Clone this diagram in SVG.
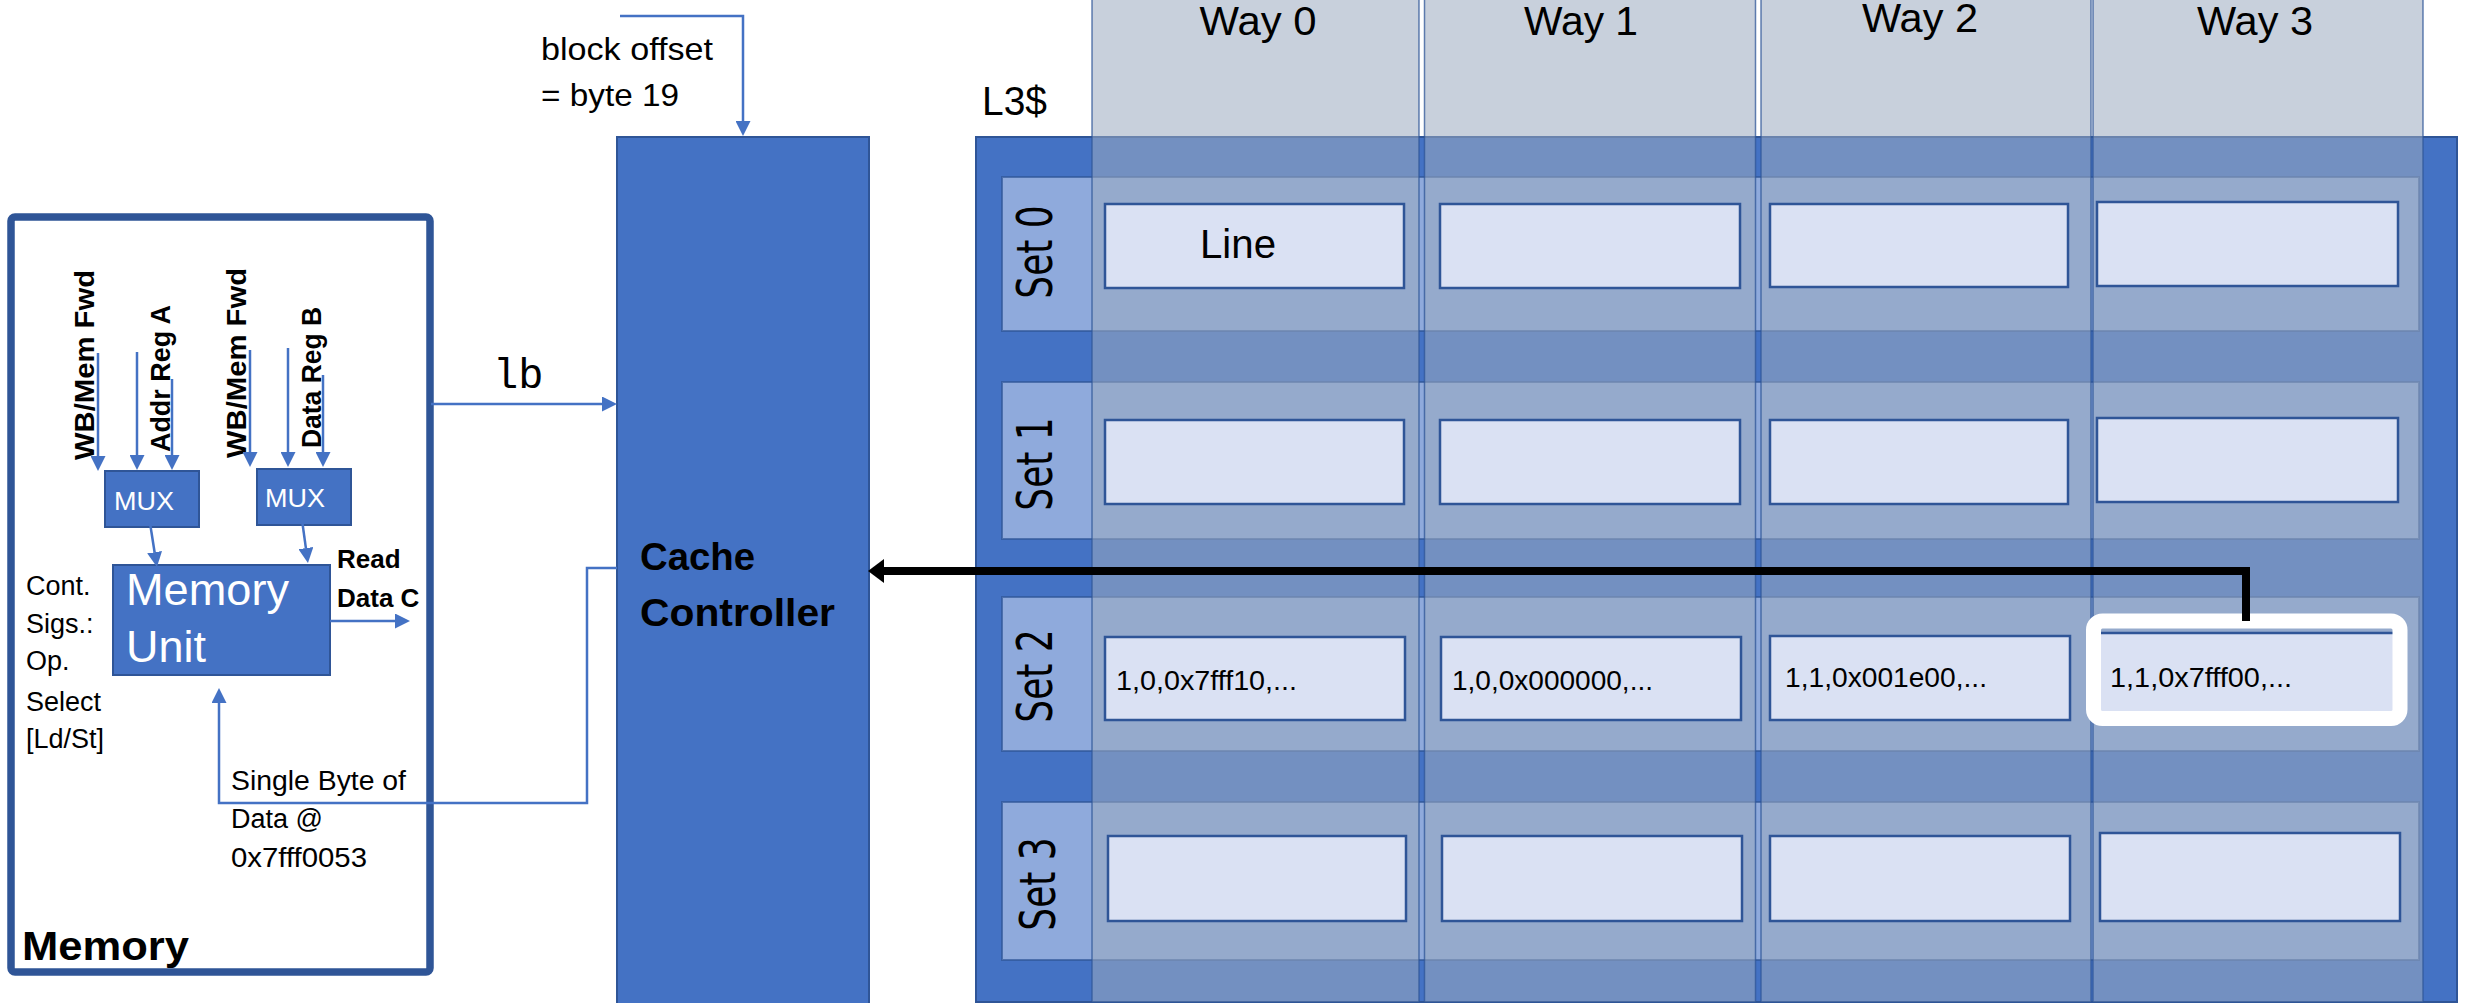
<svg xmlns="http://www.w3.org/2000/svg" width="2471" height="1003" viewBox="0 0 2471 1003">
  <style>
    .box { fill: #4472C4; stroke: #2F5597; stroke-width: 2; }
    .setrow { fill: #8FAADC; stroke: #2F5597; stroke-opacity: 0.7; stroke-width: 2; }
    .way { fill: rgb(155,170,191); fill-opacity: 0.55; stroke: #2F5597; stroke-opacity: 0.75; stroke-width: 1.5; }
    .cell { fill: #DAE1F3; stroke: #2F5597; stroke-width: 2.5; }
    .wire { fill: none; stroke: #4472C4; stroke-width: 2.5; }
    .bus { fill: none; stroke: #000; stroke-width: 8; stroke-linejoin: miter; }
    .t { font-family: "Liberation Sans", Arial, sans-serif; fill: #000; }
    .b { font-weight: bold; }
    .w { fill: #fff; }
    .set { font-family: "DejaVu Sans", Verdana, sans-serif; font-size: 36px; fill: #000; text-anchor: middle; }
  </style>
  <defs>
    <marker id="ah" markerUnits="userSpaceOnUse" markerWidth="15" markerHeight="15" refX="0" refY="7.5" orient="auto" viewBox="0 0 15 15">
      <path d="M0,0 L15,7.5 L0,15 z" fill="#4472C4"/>
    </marker>
    <marker id="ahk" markerUnits="userSpaceOnUse" markerWidth="16" markerHeight="24" refX="0" refY="12" orient="auto" viewBox="0 0 16 24">
      <path d="M0,0 L16,12 L0,24 z" fill="#000"/>
    </marker>
  </defs>

  <rect width="2471" height="1003" fill="#fff"/>

  <!-- Memory stage -->
  <g id="memory">
    <rect x="11" y="217" width="419" height="755" rx="4" fill="#fff" stroke="#2F5597" stroke-width="7.5"/>
    <text class="t b" x="22" y="960" font-size="41" textLength="167" lengthAdjust="spacingAndGlyphs">Memory</text>
    <g class="t" font-size="27">
      <text x="26" y="595">Cont.</text>
      <text x="26" y="633">Sigs.:</text>
      <text x="26" y="670">Op.</text>
      <text x="26" y="711">Select</text>
      <text x="26" y="748">[Ld/St]</text>
    </g>
  </g>

  <g id="input-labels" class="t b" font-size="28">
    <text transform="translate(94,460) rotate(-90)" textLength="190" lengthAdjust="spacingAndGlyphs">WB/Mem Fwd</text>
    <text transform="translate(170,452) rotate(-90)" textLength="147" lengthAdjust="spacingAndGlyphs">Addr Reg A</text>
    <text transform="translate(246,458) rotate(-90)" textLength="190" lengthAdjust="spacingAndGlyphs">WB/Mem Fwd</text>
    <text transform="translate(321,448) rotate(-90)" textLength="141" lengthAdjust="spacingAndGlyphs">Data Reg B</text>
  </g>

  <g id="mux-a">
    <rect class="box" x="105" y="471" width="94" height="56"/>
    <text class="t w" x="114" y="510" font-size="25" textLength="60" lengthAdjust="spacingAndGlyphs">MUX</text>
  </g>
  <g id="mux-b">
    <rect class="box" x="257" y="469" width="94" height="56"/>
    <text class="t w" x="265" y="507" font-size="25" textLength="60" lengthAdjust="spacingAndGlyphs">MUX</text>
  </g>

  <g id="memory-unit">
    <rect class="box" x="113" y="565" width="217" height="110"/>
    <text class="t w" x="126" y="605" font-size="44" textLength="163" lengthAdjust="spacingAndGlyphs">Memory</text>
    <text class="t w" x="126" y="662" font-size="44" textLength="80" lengthAdjust="spacingAndGlyphs">Unit</text>
  </g>

  <g id="read-data-label" class="t b" font-size="26">
    <text x="337" y="568">Read</text>
    <text x="337" y="607">Data C</text>
  </g>

  <g id="return-label" class="t" font-size="27">
    <text x="231" y="790" textLength="175" lengthAdjust="spacingAndGlyphs">Single Byte of</text>
    <text x="231" y="828">Data @</text>
    <text x="231" y="867" textLength="136" lengthAdjust="spacingAndGlyphs">0x7fff0053</text>
  </g>

  <g id="offset-label" class="t" font-size="32">
    <text x="541" y="60" textLength="172" lengthAdjust="spacingAndGlyphs">block offset</text>
    <text x="541" y="106" textLength="138" lengthAdjust="spacingAndGlyphs">= byte 19</text>
  </g>

  <text id="op-label" x="493" y="388" font-family="'Liberation Mono', 'Courier New', monospace" font-size="42" fill="#000">lb</text>

  <!-- Cache controller -->
  <g id="cache-controller">
    <rect class="box" x="617" y="137" width="252" height="870"/>
    <text class="t b" x="640" y="570" font-size="39" textLength="115" lengthAdjust="spacingAndGlyphs">Cache</text>
    <text class="t b" x="640" y="626" font-size="39" textLength="195" lengthAdjust="spacingAndGlyphs">Controller</text>
  </g>

  <!-- L3 cache: 4 sets x 4 ways -->
  <g id="l3-cache">
    <rect class="box" x="976" y="137" width="1481" height="865"/>
    <text class="t" x="982" y="115" font-size="40" textLength="65" lengthAdjust="spacingAndGlyphs">L3$</text>
  </g>

  <g id="sets">
    <rect class="setrow" x="1002" y="177" width="1417" height="154"/>
    <rect class="setrow" x="1002" y="382" width="1417" height="157"/>
    <rect class="setrow" x="1002" y="597" width="1417" height="154"/>
    <rect class="setrow" x="1002" y="802" width="1417" height="158"/>
    <text class="set" transform="translate(1052,252) rotate(-90) scale(1,1.4)">Set 0</text>
    <text class="set" transform="translate(1052,464) rotate(-90) scale(1,1.4)">Set 1</text>
    <text class="set" transform="translate(1052,676) rotate(-90) scale(1,1.4)">Set 2</text>
    <text class="set" transform="translate(1055,884) rotate(-90) scale(1,1.4)">Set 3</text>
  </g>

  <g id="ways">
    <rect class="way" x="1092" y="-5" width="327" height="1007"/>
    <rect class="way" x="1424.5" y="-5" width="331" height="1007"/>
    <rect class="way" x="1761" y="-5" width="330" height="1007"/>
    <rect class="way" x="2093" y="-5" width="330" height="1007"/>
    <g class="t" font-size="40" text-anchor="middle">
      <text x="1258" y="35" textLength="117" lengthAdjust="spacingAndGlyphs">Way 0</text>
      <text x="1581" y="35" textLength="114" lengthAdjust="spacingAndGlyphs">Way 1</text>
      <text x="1920" y="32" textLength="116" lengthAdjust="spacingAndGlyphs">Way 2</text>
      <text x="2255" y="35" textLength="116" lengthAdjust="spacingAndGlyphs">Way 3</text>
    </g>
  </g>

  <g id="lines">
    <rect class="cell" x="1105" y="204" width="299" height="84"/>
    <rect class="cell" x="1440" y="204" width="300" height="84"/>
    <rect class="cell" x="1770" y="204" width="298" height="83"/>
    <rect class="cell" x="2097" y="202" width="301" height="84"/>

    <rect class="cell" x="1105" y="420" width="299" height="84"/>
    <rect class="cell" x="1440" y="420" width="300" height="84"/>
    <rect class="cell" x="1770" y="420" width="298" height="84"/>
    <rect class="cell" x="2097" y="418" width="301" height="84"/>

    <rect class="cell" x="1105" y="637" width="300" height="83"/>
    <rect class="cell" x="1441" y="637" width="300" height="83"/>
    <rect class="cell" x="1770" y="636" width="300" height="84"/>
    <rect class="cell" x="2097" y="633" width="301" height="83"/>

    <rect class="cell" x="1108" y="836" width="298" height="85"/>
    <rect class="cell" x="1442" y="836" width="300" height="85"/>
    <rect class="cell" x="1770" y="836" width="300" height="85"/>
    <rect class="cell" x="2100" y="833" width="300" height="88"/>

    <text class="t" x="1200" y="258" font-size="40" textLength="76" lengthAdjust="spacingAndGlyphs">Line</text>
    <g class="t" font-size="28">
      <text x="1116" y="690" textLength="181" lengthAdjust="spacingAndGlyphs">1,0,0x7fff10,...</text>
      <text x="1452" y="690" textLength="201" lengthAdjust="spacingAndGlyphs">1,0,0x000000,...</text>
      <text x="1785" y="687" textLength="202" lengthAdjust="spacingAndGlyphs">1,1,0x001e00,...</text>
      <text x="2110" y="687" textLength="182" lengthAdjust="spacingAndGlyphs">1,1,0x7fff00,...</text>
    </g>
  </g>

  <!-- hit line highlight -->
  <rect id="hit" x="2093.5" y="621" width="306.5" height="97.5" rx="9" fill="none" stroke="#fff" stroke-width="15"/>

  <g id="connectors">
    <path class="wire" d="M98,353 V456" marker-end="url(#ah)"/>
    <path class="wire" d="M137,352 V455" marker-end="url(#ah)"/>
    <path class="wire" d="M172,379 V455" marker-end="url(#ah)"/>
    <path class="wire" d="M250,350 V452" marker-end="url(#ah)"/>
    <path class="wire" d="M288,348 V452" marker-end="url(#ah)"/>
    <path class="wire" d="M323,375 V452" marker-end="url(#ah)"/>
    <path class="wire" d="M150,523 L154.6,552.2" marker-end="url(#ah)"/>
    <path class="wire" d="M302,520 L305.9,548.1" marker-end="url(#ah)"/>
    <path class="wire" d="M330,621 H395" marker-end="url(#ah)"/>
    <path class="wire" d="M431,404 H602" marker-end="url(#ah)"/>
    <path class="wire" d="M620,16 H743 V121" marker-end="url(#ah)"/>
    <path class="wire" d="M617,568 H587 V803 H219 V703" marker-end="url(#ah)"/>
    <path class="bus" d="M2246,621 V571 H884" marker-end="url(#ahk)"/>
  </g>
</svg>
